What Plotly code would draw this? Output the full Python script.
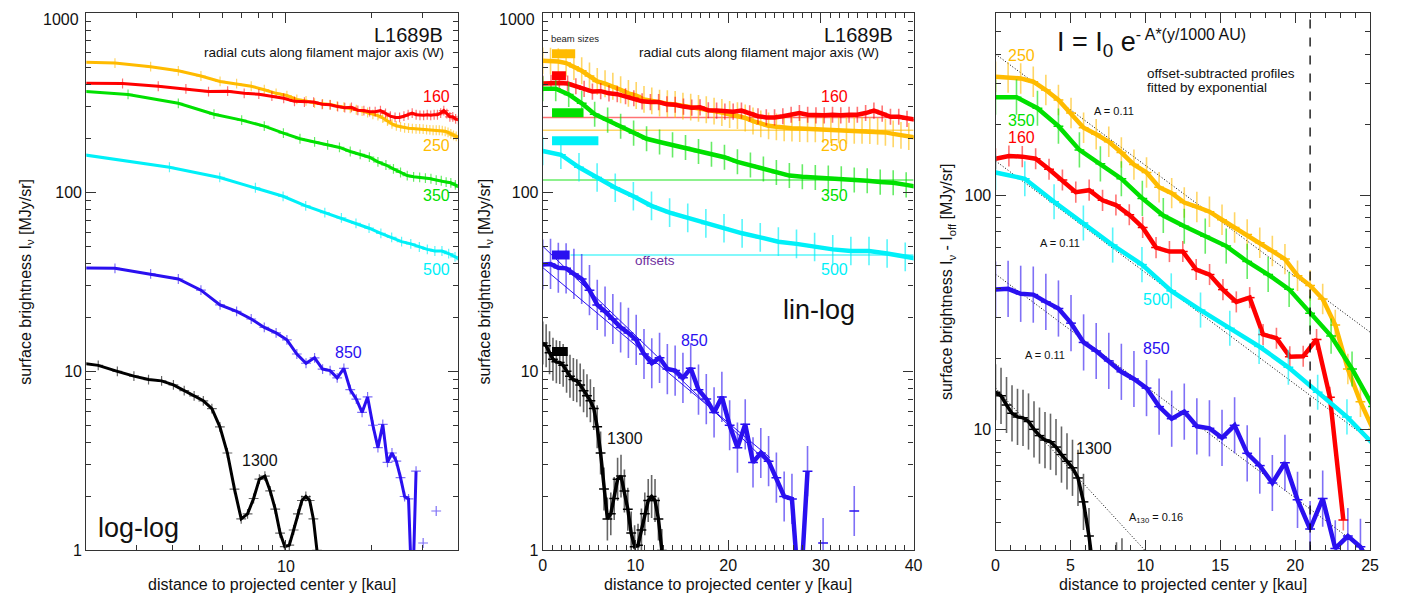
import plotly.graph_objects as go

W, H = 1406, 599

# ---------------- data ----------------
# sampling steps along y [kau]
STEP_160 = 0.893
STEP_250 = 0.84
STEP_350 = 1.40
STEP_500 = 1.955
STEP_850 = 0.84
STEP_1300 = 0.367

# full surface brightness I_nu [MJy/sr]
I_160 = [405, 409, 408, 405, 391, 378, 365, 367, 357, 353, 344, 335, 322, 319, 319, 310,
         308, 301, 297, 298, 287, 286, 282, 282, 286, 276, 266, 262, 262, 266, 271, 277,
         271, 269, 269, 271, 269, 271, 271, 277, 286, 275, 264, 264, 257, 254]
I_250 = [542, 540, 537, 527, 503, 477, 446, 416, 404, 391, 374, 357, 347, 330, 324, 315,
         312, 309, 303, 299, 294, 289, 284, 279, 272, 268, 260, 250, 241, 235, 232, 229,
         228, 227, 226, 226, 225, 224, 223, 222, 222, 222, 221, 219, 216, 212, 208, 205, 202]
I_350 = [379, 379, 352, 314, 273, 253, 234, 214, 199, 191, 184, 178, 169, 163, 157, 148,
         142, 135, 129, 124, 122, 121, 120, 119, 117, 116, 114, 113, 110, 107]
I_500 = [170, 162, 138, 121, 106, 95, 84, 77, 72, 67, 63, 59, 56, 53, 51.5, 49.5, 48, 47,
         47, 45.5, 43.6, 42]
I_850 = [39.5, 39.8, 37.9, 37.6, 35, 32.8, 28.4, 23.5, 21.6, 19.6, 17.6, 16.4, 15, 12.5,
         11.1, 11.9, 10.3, 10.1, 9.2, 10.4, 7.9, 7.0, 5.9, 7.2, 5.0, 3.75, 5.06, 3.1, 3.5,
         3.15, 2.55, 2.0, 1.94, 0.5, 2.77, None, 1.1, None, None, None, 1.66]
I_1300 = [14.4, 13.9, 12.7, 11.7, 11.3, 11.2, 10.8, 10.0, 9.4, 9.0, 8.85, 8.4, 7.8, 7.3,
          6.85, 6.2, 4.9, 3.5, 2.2, 1.5, 1.6, 1.95, 2.5, 2.6, 2.15, 1.7, 1.25, 1.05, 1.07,
          1.3, 1.6, 1.9, 2.0, 1.9, 1.5, 1.0, 0.5]

# offsets I_off [MJy/sr]
OFF_160 = 262
OFF_250 = 222
OFF_350 = 117
OFF_500 = 44.7

# offset-subtracted profiles I_nu - I_off (right panel)
SUB_160 = [143, 147, 146, 143, 129, 116, 103, 105, 95, 90.7, 82.4, 72.8, 59.7, 57.4, 57.4,
           48.1, 45.8, 39.5, 35, 36.5, 25.4, 24.5, 20.4, 20.5, 24.2, 13.7, 4.1]
SUB_250 = [320, 318, 315, 305, 281, 255, 224, 194, 182, 169, 152, 135, 125, 108, 102, 93,
           89, 85, 78.5, 72.8, 67.9, 62.6, 57.7, 53.3, 45.3, 41.1, 36, 27.9, 18.1, 13.1, 10]
SUB_350 = [262, 262, 235, 197, 156, 136, 117.5, 96.8, 81.8, 73.6, 66.8, 60.6, 52.1, 45.8,
           39.6, 31.3, 25, 18.1, 12.5]
SUB_500 = [125, 117.5, 93.7, 76, 61.2, 50.5, 39, 32.3, 27, 22.6, 18.4, 14.4, 11.3, 8.4]

# beam sizes (start, width in kau ; level MJy/sr) for middle panel
BEAM_X0 = 1.0
BEAM_W = {"250": 2.5, "160": 1.5, "350": 3.4, "500": 5.0, "850": 1.9, "1300": 1.7}
BEAM_Y = {"250": 593, "160": 447, "350": 278, "500": 194, "850": 44.6, "1300": 12.9}

# straight-line fits of the 850 profile (middle panel): (x0, x1), (I0, I1)
FIT850_A = ([0, 24.5], [50, 3.0])
FIT850_B = ([0, 24.5], [38, 3.3])
# exponential fits in right panel
FIT_R_250 = ([0, 25], [400, 26])
FIT_R_500 = ([0, 25], [140, 9.0])
FIT_R_850 = ([0, 25], [46, 2.94])
FIT_R_1300 = ([0, 10], [15, 3.03])
Y_CUT = 21

# error-bar half lengths (dex)
ERR_MID = {"160": 0.045, "250": 0.075, "350": 0.07, "500": 0.08, "850": 0.14, "1300": 0.12}
ERR_RIGHT = {"160": 0.045, "250": 0.065, "350": 0.075, "500": 0.075, "850": 0.12, "1300": 0.12}

# ---------------- styles ----------------
COL = {"160": "#FF0000", "250": "#FFBB00", "350": "#00E000", "500": "#00F0F8",
       "850": "#2A10F0", "1300": "#000000"}
COL_A = {"160": "rgba(255,0,0,0.55)", "250": "rgba(255,187,0,0.6)", "350": "rgba(0,224,0,0.6)",
         "500": "rgba(0,240,248,0.65)", "850": "rgba(42,16,240,0.6)", "1300": "rgba(0,0,0,0.6)"}
FONT = "Liberation Sans, Arial, Helvetica, sans-serif"
AX = "#333333"


def grid(vals, step):
    return [round(i * step, 3) for i in range(len(vals))]


def errs(vals, dex):
    up, dn = [], []
    for v in vals:
        if v is None:
            up.append(0); dn.append(0)
        else:
            up.append(v * (10 ** dex - 1)); dn.append(v * (1 - 10 ** -dex))
    return up, dn


SERIES = [("250", I_250, STEP_250), ("160", I_160, STEP_160), ("350", I_350, STEP_350),
          ("500", I_500, STEP_500), ("850", I_850, STEP_850), ("1300", I_1300, STEP_1300)]
SUBS = {"160": SUB_160, "250": SUB_250, "350": SUB_350, "500": SUB_500}

fig = go.Figure()

# ---------- left panel (log-log) ----------
for key, vals, step in SERIES:
    xs = grid(vals, step)
    pts = [(x, v) for x, v in zip(xs, vals) if x > 0]
    fig.add_trace(go.Scatter(
        x=[p[0] for p in pts], y=[p[1] for p in pts], mode="lines+markers",
        line=dict(color=COL[key], width=3),
        marker=dict(symbol="cross-thin", size=7, line=dict(width=1.2, color=COL_A[key])),
        xaxis="x", yaxis="y", showlegend=False, hoverinfo="skip"))

# ---------- middle panel (lin-log) ----------
off_lines = [("160", OFF_160, 0), ("250", OFF_250, 0), ("350", OFF_350, 0), ("500", OFF_500, 3.0)]
for key, off, xs0 in off_lines:
    fig.add_trace(go.Scatter(x=[xs0, 40], y=[off, off], mode="lines",
                             line=dict(color=COL_A[key], width=1.5),
                             xaxis="x2", yaxis="y2", showlegend=False, hoverinfo="skip"))
for fx, fy in (FIT850_A, FIT850_B):
    fig.add_trace(go.Scatter(x=fx, y=fy, mode="lines", line=dict(color=COL["850"], width=1),
                             xaxis="x2", yaxis="y2", showlegend=False, hoverinfo="skip"))
for key, vals, step in SERIES:
    xs = grid(vals, step)
    up, dn = errs(vals, ERR_MID[key])
    fig.add_trace(go.Scatter(
        x=xs, y=vals, mode="lines+markers",
        line=dict(color=COL[key], width=4.5 if key != "1300" else 3.5),
        marker=dict(symbol="line-ew", size=7, line=dict(width=1.5, color=COL[key])),
        error_y=dict(type="data", symmetric=False, array=up, arrayminus=dn,
                     color=COL_A[key], thickness=1.6, width=0),
        xaxis="x2", yaxis="y2", showlegend=False, hoverinfo="skip"))
for key in ["250", "160", "350", "500", "850", "1300"]:
    fig.add_trace(go.Scatter(x=[BEAM_X0, BEAM_X0 + BEAM_W[key]], y=[BEAM_Y[key], BEAM_Y[key]],
                             mode="lines", line=dict(color=COL[key], width=9),
                             xaxis="x2", yaxis="y2", showlegend=False, hoverinfo="skip"))

# ---------- right panel (offset-subtracted) ----------
for fx, fy in (FIT_R_250, FIT_R_500, FIT_R_850, FIT_R_1300):
    fig.add_trace(go.Scatter(x=fx, y=fy, mode="lines",
                             line=dict(color="black", width=1, dash="1px,2px"),
                             xaxis="x3", yaxis="y3", showlegend=False, hoverinfo="skip"))
for key, vals, step in SERIES:
    vv = SUBS.get(key, vals)
    xs = grid(vv, step)
    up, dn = errs(vv, ERR_RIGHT[key])
    fig.add_trace(go.Scatter(
        x=xs, y=vv, mode="lines+markers",
        line=dict(color=COL[key], width=4.5 if key != "1300" else 3.5),
        marker=dict(symbol="line-ew", size=7, line=dict(width=1.5, color=COL[key])),
        error_y=dict(type="data", symmetric=False, array=up, arrayminus=dn,
                     color=COL_A[key], thickness=1.6, width=0),
        xaxis="x3", yaxis="y3", showlegend=False, hoverinfo="skip"))

# ---------- axes ----------
YDOM = [1 - 550.7 / H, 1 - 5.3 / H]
dec_minor = [m * 10 ** e for e in range(0, 3) for m in range(2, 10)]


def base_axis(**kw):
    d = dict(showline=True, linecolor=AX, linewidth=1.2, mirror="allticks", ticks="inside",
             ticklen=10, tickwidth=1.2, tickcolor=AX, showgrid=False, zeroline=False,
             tickfont=dict(family=FONT, size=16, color="#111"))
    d.update(kw)
    return d


fig.update_layout(
    width=W, height=H, margin=dict(l=0, r=0, t=0, b=0),
    paper_bgcolor="white", plot_bgcolor="white", showlegend=False,
    font=dict(family=FONT, color="#111"),
    xaxis=base_axis(domain=[75 / W, 450 / W], type="log", range=[0.30103, 1.60206],
                    tickmode="array", tickvals=[10], ticktext=[""],
                    minor=dict(tickvals=[2, 3, 4, 5, 6, 7, 8, 9, 20, 30, 40], ticks="inside",
                               ticklen=5, tickcolor=AX, showgrid=False)),
    yaxis=base_axis(domain=YDOM, type="log", range=[0, 3], anchor="x",
                    tickvals=[1, 10, 100, 1000], ticktext=["1", "10", "100", ""],
                    minor=dict(tickvals=dec_minor, ticks="inside", ticklen=5, tickcolor=AX,
                               showgrid=False)),
    xaxis2=base_axis(domain=[535.7 / W, 910 / W], range=[0, 40], anchor="y2",
                     tickvals=[0, 10, 20, 30, 40],
                     minor=dict(dtick=1, ticks="inside", ticklen=5, tickcolor=AX, showgrid=False)),
    yaxis2=base_axis(domain=YDOM, type="log", range=[0, 3], anchor="x2",
                     tickvals=[1, 10, 100, 1000], ticktext=["1", "10", "100", ""],
                     minor=dict(tickvals=dec_minor, ticks="inside", ticklen=5, tickcolor=AX,
                                showgrid=False)),
    xaxis3=base_axis(domain=[992.7 / W, 1370.7 / W], range=[0, 25], anchor="y3",
                     tickvals=[0, 5, 10, 15, 20, 25],
                     minor=dict(dtick=1, ticks="inside", ticklen=5, tickcolor=AX, showgrid=False)),
    yaxis3=base_axis(domain=YDOM, type="log", range=[0.4829, 2.7767], anchor="x3",
                     tickvals=[10, 100], ticktext=["10", "100"],
                     minor=dict(tickvals=[4, 5, 6, 7, 8, 9, 20, 30, 40, 50, 60, 70, 80, 90,
                                          200, 300, 400, 500],
                                ticks="inside", ticklen=5, tickcolor=AX, showgrid=False)),
)

fig.add_shape(type="line", xref="x3", yref="y3 domain", x0=Y_CUT, x1=Y_CUT, y0=0, y1=1,
              line=dict(color="black", width=1.3, dash="dash"))

# ---------- text ----------
ann = []


def T(text, x, y, size=16, color="#111", xa="center", ya="middle", angle=0):
    ann.append(dict(text=text, x=x / W, y=1 - y / H, xref="paper", yref="paper",
                    xanchor=xa, yanchor=ya, showarrow=False, textangle=angle,
                    font=dict(family=FONT, size=size, color=color)))


SUBT = "radial cuts along filament major axis (W)"
# tick labels that sit at the figure edge
T("1000", 70, 12, 16, xa="right")
T("1000", 530, 12, 16, xa="right")
# left-panel x label at 10 kau (log axis -> annotation x given as log10)
ann.append(dict(text="10", x=1, y=1 - 567 / H, xref="x", yref="paper", xanchor="center",
                yanchor="middle", showarrow=False, font=dict(family=FONT, size=16, color="#111")))
# left
T("L1689B", 437, 27, 20, xa="right")
T(SUBT, 438, 45, 13.5, xa="right")
T("160", 428, 90, 16, COL["160"])
T("250", 428, 140, 16, COL["250"])
T("350", 428, 190, 16, COL["350"])
T("500", 428, 265, 16, COL["500"])
T("850", 340, 350, 16, COL["850"])
T("1300", 250, 459, 16)
T("log-log", 128, 528, 27)
# middle
T("L1689B", 891, 27, 20, xa="right")
T(SUBT, 877, 45, 13.5, xa="right")
T("beam sizes", 568, 31, 9.5, "#222")
T("160", 830, 90, 16, COL["160"])
T("250", 830, 140, 16, COL["250"])
T("350", 830, 190, 16, COL["350"])
T("500", 830, 265, 16, COL["500"])
T("offsets", 649, 256, 13.5, "#7030A0")
T("850", 689, 338, 16, COL["850"])
T("1300", 619, 437, 16)
T("lin-log", 815, 307, 27)
# right
T("I = I<sub>0</sub> e<sup><span style='font-size:16px'>- A*(y/1000 AU)</span></sup>",
  1053, 36, 27, xa="left")
T("offset-subtracted profiles", 1144, 67, 13.5, xa="left")
T("fitted by exponential", 1144, 81, 13.5, xa="left")
T("A = 0.11", 1112, 105, 11)
T("A = 0.11", 1058, 239, 11)
T("A = 0.11", 1043, 352, 11)
T("A<sub>130</sub> = 0.16", 1155, 518, 11)
T("250", 1019, 48, 16, COL["250"])
T("350", 1019, 114, 16, COL["350"])
T("160", 1019, 131, 16, COL["160"])
T("500", 1155, 296, 16, COL["500"])
T("850", 1155, 346, 16, COL["850"])
T("1300", 1092, 447, 16)
# axis titles
XT = "distance to projected center y [kau]"
T(XT, 262.5, 585, 16)
T(XT, 723, 585, 16)
T(XT, 1181.7, 585, 16)
YT = "surface brightness I<sub>ν</sub> [MJy/sr]"
T(YT, 15, 278, 16, angle=-90)
T(YT, 478, 278, 16, angle=-90)
T("surface brightness I<sub>ν</sub> - I<sub>off</sub> [MJy/sr]", 945, 278, 16, angle=-90)

fig.update_layout(annotations=ann)
fig.write_html("out.html")
